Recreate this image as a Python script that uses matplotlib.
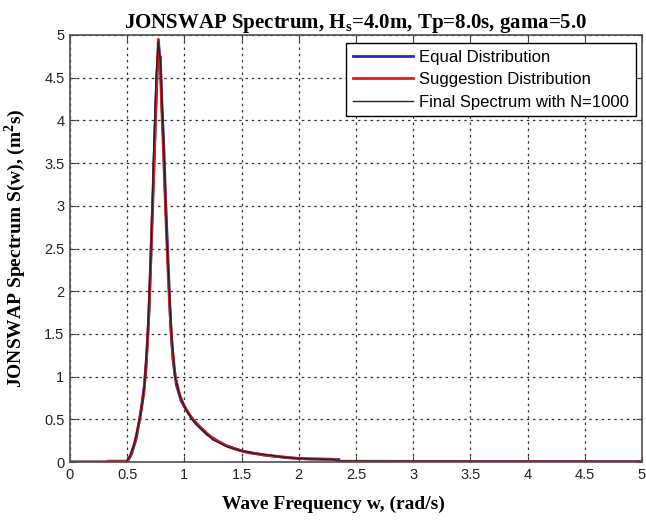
import numpy as np
import matplotlib
matplotlib.use("Agg")
import matplotlib.pyplot as plt
from matplotlib.ticker import FormatStrFormatter

# values
w_equal = [0.0, 0.5, 0.54, 0.58, 0.62, 0.65, 0.67, 0.69, 0.70, 0.715, 0.73, 0.745,
           0.76, 0.775, 0.79, 0.805, 0.82, 0.835, 0.85, 0.865, 0.88, 0.90, 0.93,
           0.97, 1.02, 1.1, 1.2, 1.35, 1.5, 1.7, 1.9, 2.1, 2.35, 2.36, 5.0]
s_equal = [0.0, 0.0, 0.1, 0.28, 0.6, 0.9, 1.25, 1.75, 2.15, 2.75, 3.35, 3.95,
           4.55, 4.9, 4.65, 4.15, 3.7, 3.1, 2.6, 2.1, 1.6, 1.2, 0.9,
           0.72, 0.6, 0.45, 0.32, 0.2, 0.13, 0.08, 0.05, 0.035, 0.03, 0.008, 0.005]

w_suggest = [0.0, 0.33, 0.33, 0.5, 0.53, 0.57, 0.61, 0.645, 0.665, 0.685, 0.70,
             0.712, 0.725, 0.738, 0.75, 0.762, 0.772, 0.78, 0.79, 0.80, 0.812,
             0.826, 0.84, 0.855, 0.872, 0.893, 0.92, 0.96, 1.0, 1.06, 1.13, 1.25,
             1.4, 1.55, 1.75, 2.0, 2.33, 2.34, 5.0]
s_suggest = [0.0, 0.0, 0.01, 0.01, 0.08, 0.25, 0.5, 0.8, 1.1, 1.6, 2.1,
             2.6, 3.1, 3.6, 4.1, 4.55, 4.95, 4.6, 4.75, 4.2, 3.8,
             3.3, 2.8, 2.3, 1.8, 1.35, 1.0, 0.78, 0.65, 0.52, 0.42, 0.27,
             0.17, 0.11, 0.075, 0.04, 0.03, 0.008, 0.006]

w_final = [0.0, 0.30, 0.49, 0.52, 0.56, 0.61, 0.64, 0.656, 0.679, 0.693, 0.708,
           0.72, 0.728, 0.74, 0.752, 0.772, 0.778, 0.793, 0.81, 0.825, 0.836,
           0.851, 0.868, 0.889, 0.918, 0.962, 1.0, 1.06, 1.12, 1.25, 1.37, 1.5,
           1.62, 1.75, 1.87, 2.0, 2.15, 2.3, 2.34, 3.0, 4.0, 5.0]
s_final = [0.0, 0.0, 0.0, 0.06, 0.2, 0.51, 0.75, 1.01, 1.48, 1.99, 2.5,
           3.0, 3.51, 4.02, 4.5, 4.92, 4.85, 4.64, 4.02, 3.51, 3.0,
           2.5, 2.0, 1.48, 1.0, 0.77, 0.65, 0.51, 0.42, 0.26, 0.18, 0.13,
           0.1, 0.08, 0.055, 0.04, 0.035, 0.03, 0.01, 0.008, 0.006, 0.005]

plt.rcParams['mathtext.fontset'] = 'custom'
plt.rcParams['mathtext.rm'] = 'Liberation Serif:bold'
plt.rcParams['mathtext.bf'] = 'Liberation Serif:bold'

fig = plt.figure(figsize=(6.46, 5.22), dpi=100)
ax = fig.add_axes([70 / 646, 60 / 522, 572 / 646, 427 / 522])

ax.plot(w_equal, s_equal, color='#2a2ac0', lw=2, label='Equal Distribution')
ax.plot(w_suggest, s_suggest, color='#d42020', lw=2, label='Suggestion Distribution')
ax.plot(w_final, s_final, color='#222222', lw=1, label='Final Spectrum with N=1000')

ax.set_xlim(0, 5)
ax.set_ylim(0, 5)
ax.set_xticks(np.arange(0, 5.01, 0.5))
ax.set_yticks(np.arange(0, 5.01, 0.5))
ax.xaxis.set_major_formatter(FormatStrFormatter('%g'))
ax.yaxis.set_major_formatter(FormatStrFormatter('%g'))
ax.tick_params(direction='in', top=True, right=True, length=4, color='#404040',
               labelsize=10.5, pad=4)
for lab in ax.get_xticklabels() + ax.get_yticklabels():
    lab.set_family('Liberation Sans')
    lab.set_color('#222222')
ax.grid(True, color='#333333', linestyle=(0, (2, 3)), lw=0.9)
for sp in ax.spines.values():
    sp.set_color('#505050')
    sp.set_linewidth(1.2)

ax.set_title('JONSWAP Spectrum, H$_\\mathrm{s}$=4.0m, Tp=8.0s, gama=5.0',
             family='Liberation Serif', fontweight='bold', fontsize=15, pad=5)
ax.set_xlabel('Wave Frequency w, (rad/s)', family='Liberation Serif',
              fontweight='bold', fontsize=14)
ax.set_ylabel('JONSWAP Spectrum S(w), (m$^\\mathrm{2}$s)', family='Liberation Serif',
              fontweight='bold', fontsize=14)
ax.xaxis.set_label_coords(0.46, -0.08)
ax.yaxis.set_label_coords(-0.073, 0.5)

leg = ax.legend(loc='upper right', bbox_to_anchor=(1 - 6 / 572, 1 - 8 / 427),
                borderaxespad=0, fancybox=False, framealpha=1, edgecolor='black',
                prop={'family': 'Liberation Sans', 'size': 12},
                handlelength=3.6, handletextpad=0.4, labelspacing=0.45,
                borderpad=0.4)
leg.get_frame().set_linewidth(1)

fig.savefig('out.png', dpi=100)
